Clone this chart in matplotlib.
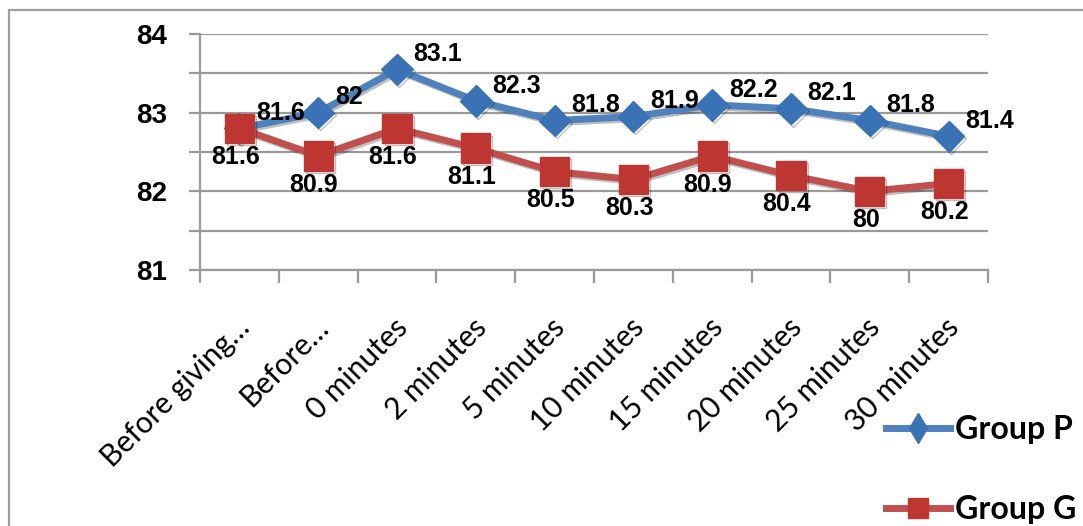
import numpy as np
import matplotlib
matplotlib.use('Agg')
import matplotlib.pyplot as plt
import matplotlib.patheffects as pe
import matplotlib.transforms as mtransforms
from matplotlib.lines import Line2D
from matplotlib.patches import Rectangle

# ---- data ----
categories = ['Before giving…', 'Before…', '0 minutes', '2 minutes', '5 minutes',
              '10 minutes', '15 minutes', '20 minutes', '25 minutes', '30 minutes']
group_p = [81.6, 82, 83.1, 82.3, 81.8, 81.9, 82.2, 82.1, 81.8, 81.4]
group_g = [81.6, 80.9, 81.6, 81.1, 80.5, 80.3, 80.9, 80.4, 80, 80.2]
series_names = ['Group P', 'Group G']
ytick_vals = [78, 80, 82, 84]
ytick_labels = ['81', '82', '83', '84']

blue, blue_dark = '#4F81BD', '#3A72B6'
red, red_dark = '#C0504D', '#BE3632'
grid_col = '#9a9a9a'

W, H = 1083, 526
fig = plt.figure(figsize=(W/100, H/100), dpi=100)
ax = fig.add_axes([200/W, 1 - 270/H, 788/W, 236/H])

x = np.arange(len(categories))
shadow = [pe.SimpleLineShadow(offset=(1.5, -1.5), alpha=0.25), pe.Normal()]
ax.plot(x, group_p, color=blue, lw=5, marker='D', ms=16, mfc=blue_dark, mec=blue_dark,
        zorder=3, path_effects=shadow, solid_joinstyle='miter')
ax.plot(x, group_g, color=red, lw=5, marker='s', ms=21, mfc=red_dark, mec=red_dark,
        zorder=4, path_effects=shadow, solid_joinstyle='miter')

# value labels: right of the P points, under the G points
for xi, v in zip(x, group_p):
    ax.annotate(f'{v:g}', (xi, v), xytext=(12, 11), textcoords='offset points',
                ha='left', va='center', fontsize=18, fontweight='bold',
                family='Liberation Sans', zorder=6)
for xi, v in zip(x, group_g):
    ax.annotate(f'{v:g}', (xi, v), xytext=(-3, -12), textcoords='offset points',
                ha='center', va='top', fontsize=18, fontweight='bold',
                family='Liberation Sans', zorder=6)

ax.set_xlim(-0.5, len(categories) - 0.5)
ax.set_ylim(78, 84)

# y axis: gridline every unit, label on every other one
ax.set_yticks(ytick_vals)
ax.set_yticklabels(ytick_labels, fontsize=20, fontweight='bold', family='Liberation Sans')
ax.set_yticks([79, 81, 83], minor=True)
ax.yaxis.grid(True, which='both', color=grid_col, lw=1.6)
ax.tick_params(axis='y', which='both', length=8, width=1.6, color=grid_col, pad=16)
ax.set_axisbelow(True)

# x axis: tick marks between categories, labels at the centres
ax.set_xticks(np.arange(-0.5, len(categories)))
ax.set_xticklabels([])
ax.set_xticks(x, minor=True)
ax.set_xticklabels(categories, minor=True, rotation=45, ha='right', va='center',
                   rotation_mode='anchor', fontsize=21.5, family='Lato')
ax.tick_params(axis='x', which='major', length=9, width=1.6, color=grid_col)
ax.tick_params(axis='x', which='minor', length=0, pad=38)
shift = mtransforms.ScaledTranslation(6/100, 0, fig.dpi_scale_trans)
for lab in ax.get_xticklabels(minor=True):
    lab.set_transform(lab.get_transform() + shift)

for s in ['top', 'right']:
    ax.spines[s].set_visible(False)
for s in ['left', 'bottom']:
    ax.spines[s].set_color(grid_col)
    ax.spines[s].set_linewidth(1.6)

handles = [Line2D([], [], color=blue, lw=5, marker='d', ms=15, mfc=blue_dark, mec=blue_dark),
           Line2D([], [], color=red, lw=5, marker='s', ms=15, mfc=red_dark, mec=red_dark)]
fig.legend(handles, series_names, loc='upper left', bbox_to_anchor=(886/W, 1 - 415/H),
           frameon=False, borderpad=0, borderaxespad=0, handlelength=2.0,
           handletextpad=0.15, labelspacing=1.6,
           prop={'family': 'Lato', 'weight': 'bold', 'size': 23})

# chart frame
fig.add_artist(Rectangle((9/W, -0.1), 1.2, 1 - 10/H + 0.1, transform=fig.transFigure,
                         fill=False, edgecolor='#a0a0a0', lw=1.6))

fig.savefig('out.png', dpi=100)
